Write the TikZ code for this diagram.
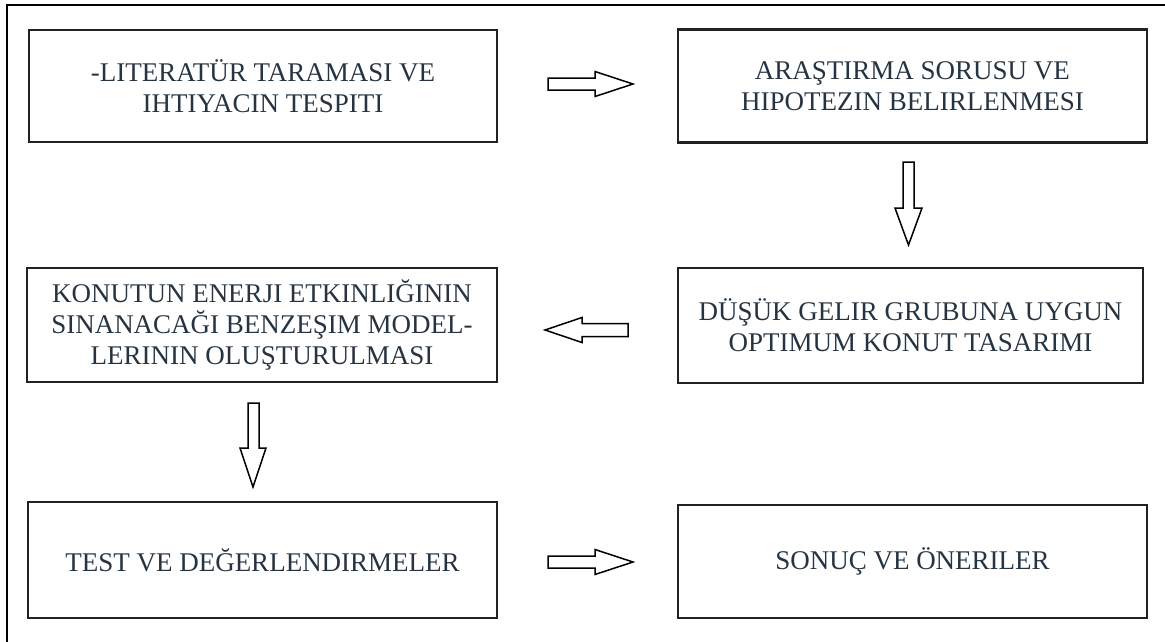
\documentclass[tikz,border=0pt]{standalone}
\usepackage{fontspec}
\setmainfont{Liberation Serif}
\definecolor{txtc}{HTML}{263442}
\definecolor{boxc}{HTML}{222222}
\begin{document}
\begin{tikzpicture}[x=1pt,y=-1pt,
  stepbox/.style={draw=boxc,line width=2.4pt,inner sep=0pt,align=center,
    text=txtc,font=\fontsize{27}{31}\selectfont},
  blockarrow/.style={draw=black,line width=1.5pt,fill=white,line join=miter}]
\useasboundingbox (0,0) rectangle (1165,641);
\draw[line width=1.6pt] (7,660) -- (7,5) -- (1180,5);
\node[stepbox,minimum width=468pt,minimum height=112pt] (b1) at (263,86)
  {-LITERATÜR TARAMASI VE\\IHTIYACIN TESPITI};
\node[stepbox,minimum width=469pt,minimum height=113pt] (b2) at (912.5,86)
  {ARAŞTIRMA SORUSU VE\\HIPOTEZIN BELIRLENMESI};
\node[stepbox,minimum width=470pt,minimum height=114pt] (b3) at (262,325)
  {KONUTUN ENERJI ETKINLIĞININ\\SINANACAĞI BENZEŞIM MODEL-\\LERININ OLUŞTURULMASI};
\node[stepbox,minimum width=465pt,minimum height=115pt] (b4) at (910.5,325.5)
  {DÜŞÜK GELIR GRUBUNA UYGUN\\OPTIMUM KONUT TASARIMI};
\node[stepbox,minimum width=469pt,minimum height=116pt] (b5) at (262.5,560)
  {TEST VE DEĞERLENDIRMELER};
\node[stepbox,minimum width=469pt,minimum height=113pt] (b6) at (912.5,561.5)
  {SONUÇ VE ÖNERILER};
% right arrow b1 -> b2
\draw[blockarrow] (548,78) -- (595,78) -- (595,71.5) -- (633,84) -- (595,96.5) -- (595,90) -- (548,90) -- cycle;
% down arrow b2 -> b4
\draw[blockarrow] (903,162) -- (914,162) -- (914,208) -- (922,208) -- (908.5,245) -- (895,208) -- (903,208) -- cycle;
% left arrow b4 -> b3
\draw[blockarrow] (628,323.5) -- (582,323.5) -- (582,317.5) -- (545,330) -- (582,342.5) -- (582,336.5) -- (628,336.5) -- cycle;
% down arrow b3 -> b5
\draw[blockarrow] (248,403) -- (259,403) -- (259,448) -- (266,448) -- (253,487) -- (240,448) -- (248,448) -- cycle;
% right arrow b5 -> b6
\draw[blockarrow] (548,556) -- (595,556) -- (595,549.5) -- (633,562) -- (595,574.5) -- (595,568) -- (548,568) -- cycle;
\end{tikzpicture}
\end{document}
